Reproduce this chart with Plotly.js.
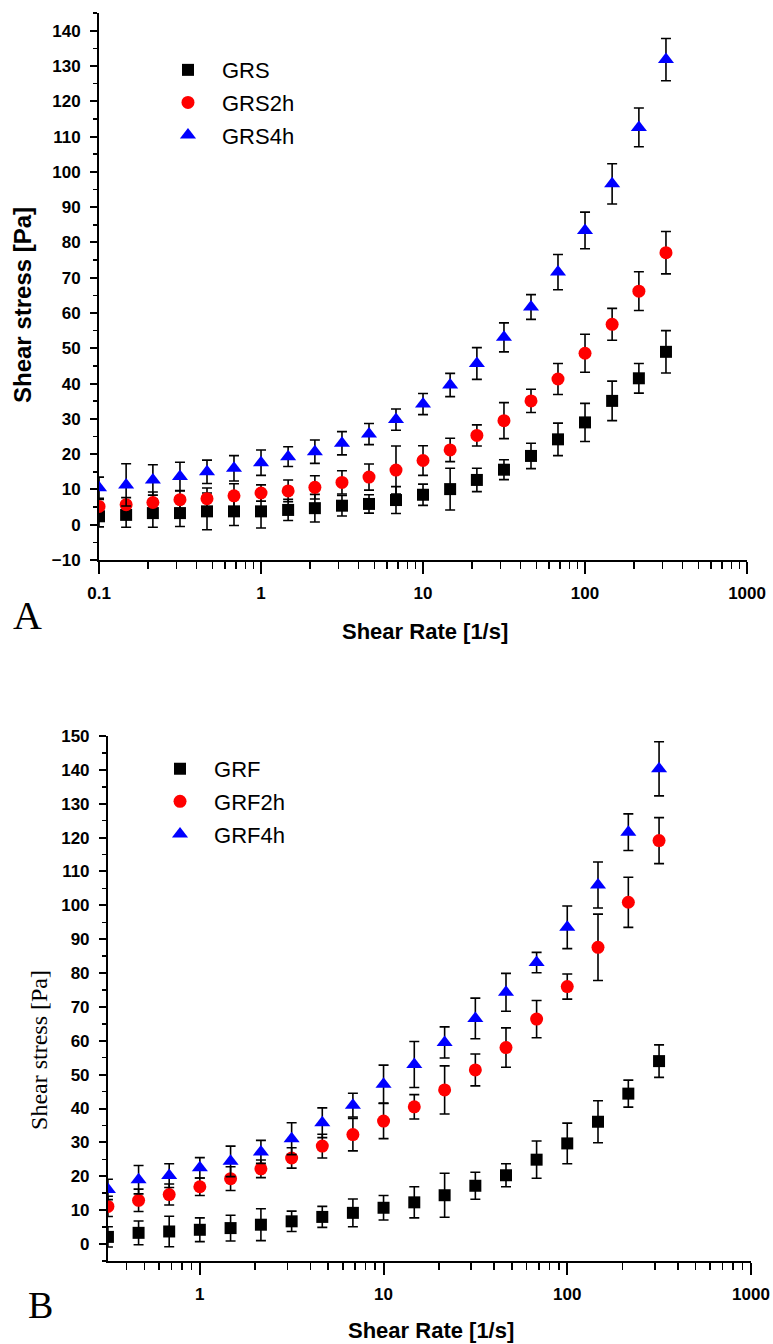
<!DOCTYPE html>
<html>
<head>
<meta charset="utf-8">
<script src="https://cdn.plot.ly/plotly-3.0.1.min.js"></script>
<style>html,body{margin:0;padding:0;background:#fff;}#chart{width:773px;height:1344px;}</style>
</head>
<body>
<div id="chart"></div>
<script>
// ---------- Panel A data ----------
var shearRateA = [0.1, 0.147, 0.215, 0.316, 0.464, 0.681, 1, 1.47, 2.15, 3.16, 4.64, 6.81, 10, 14.7, 21.5, 31.6, 46.4, 68.1, 100, 147, 215, 316];
var GRS      = [2.4, 2.8, 3.3, 3.3, 3.8, 3.8, 3.8, 4.2, 4.7, 5.4, 5.9, 7.0, 8.5, 10.1, 12.7, 15.6, 19.5, 24.2, 29.0, 35.1, 41.5, 49.0];
var GRS_err  = [3, 3.5, 4, 3.8, 5.2, 4, 4.7, 3, 3.9, 2.9, 2.6, 3.8, 3, 5.9, 3.3, 2.8, 3.6, 4.6, 5.4, 5.6, 4.2, 6];
var GRS2h     = [5.2, 5.7, 6.3, 7.1, 7.4, 8.2, 9.0, 9.6, 10.6, 12.0, 13.5, 15.5, 18.2, 21.2, 25.3, 29.5, 35.1, 41.3, 48.6, 56.8, 66.2, 77.1];
var GRS2h_err = [2, 2, 3, 2.5, 3, 3.4, 2.3, 3.1, 3.3, 3.3, 3.7, 6.8, 4.2, 3.3, 3, 5.1, 3.3, 4.4, 5.4, 4.5, 5.5, 6];
var GRS4h     = [10.5, 11.3, 12.7, 13.7, 15.0, 16.0, 17.6, 19.3, 20.7, 23.1, 25.7, 29.8, 34.2, 39.6, 45.7, 53.1, 61.7, 71.6, 83.4, 96.6, 112.6, 131.8];
var GRS4h_err = [3, 6, 4.3, 4, 3.3, 3.6, 3.6, 2.8, 3.3, 3.3, 3, 3, 3, 3.3, 4.5, 4.1, 3.5, 5, 5.2, 5.7, 5.5, 6];

// ---------- Panel B data ----------
var shearRateB = [0.316, 0.464, 0.681, 1, 1.47, 2.15, 3.16, 4.64, 6.81, 10, 14.7, 21.5, 31.6, 46.4, 68.1, 100, 147, 215, 316];
var GRF       = [2.1, 3.3, 3.7, 4.2, 4.7, 5.7, 6.7, 8.0, 9.2, 10.7, 12.3, 14.4, 17.2, 20.3, 24.9, 29.7, 36.1, 44.4, 54.0];
var GRF_err   = [3, 3.5, 4.5, 3.5, 3.8, 4.7, 3, 3.1, 4.1, 3.6, 4.6, 6.5, 4, 3.4, 5.5, 6, 6.2, 4, 4.8];
var GRF2h     = [11.1, 12.9, 14.6, 16.9, 19.3, 22.2, 25.4, 28.9, 32.3, 36.3, 40.5, 45.5, 51.4, 58.0, 66.4, 76.0, 87.6, 100.9, 119.1];
var GRF2h_err = [3, 3.3, 3.1, 2.6, 3.5, 2.6, 3, 3.5, 4.8, 5.2, 3.6, 7.1, 4.7, 5.8, 5.5, 3.7, 9.8, 7.4, 6.8];
var GRF4h     = [16.1, 19.0, 20.2, 22.5, 24.4, 27.2, 31.1, 35.8, 41.0, 47.2, 53.0, 59.5, 66.6, 74.3, 83.1, 93.5, 106.0, 121.6, 140.3];
var GRF4h_err = [3, 4.2, 3.5, 3, 4.5, 3.4, 4.7, 4.4, 3.5, 5.6, 6.8, 4.6, 6, 5.6, 3, 6.3, 6.8, 5.4, 8];

// ---------- Tick labels ----------
var xTickValsA = [0.1, 1, 10, 100, 1000];
var xTickTextA = ['0.1', '1', '10', '100', '1000'];
var xTickValsB = [1, 10, 100, 1000];
var xTickTextB = ['1', '10', '100', '1000'];

var seriesNamesA = ['GRS', 'GRS2h', 'GRS4h'];
var seriesNamesB = ['GRF', 'GRF2h', 'GRF4h'];

// minor tick positions (2..9 in each decade)
var minorTicks = [];
[0.1, 1, 10, 100].forEach(function (d) {
  for (var k = 2; k <= 9; k++) minorTicks.push(+(d * k).toPrecision(3));
});

var symbols = ['square', 'circle', 'triangle-up'];
var colors = ['#000000', '#ff0000', '#0000ff'];
var sizes = [12, 13, 14];

function mk(x, y, err, i, name, xa, ya, leg) {
  return {
    type: 'scatter', mode: 'markers', x: x, y: y, name: name,
    xaxis: xa, yaxis: ya, legend: leg, legendgroup: name,
    marker: { symbol: symbols[i], color: colors[i], size: sizes[i], line: { width: 0 } },
    error_y: { type: 'data', array: err, visible: true, color: '#000000', thickness: 1.6, width: 5 }
  };
}

var data = [
  mk(shearRateA, GRS, GRS_err, 0, seriesNamesA[0], 'x', 'y', 'legend'),
  mk(shearRateA, GRS2h, GRS2h_err, 1, seriesNamesA[1], 'x', 'y', 'legend'),
  mk(shearRateA, GRS4h, GRS4h_err, 2, seriesNamesA[2], 'x', 'y', 'legend'),
  mk(shearRateB, GRF, GRF_err, 0, seriesNamesB[0], 'x2', 'y2', 'legend2'),
  mk(shearRateB, GRF2h, GRF2h_err, 1, seriesNamesB[1], 'x2', 'y2', 'legend2'),
  mk(shearRateB, GRF4h, GRF4h_err, 2, seriesNamesB[2], 'x2', 'y2', 'legend2')
];

var tickFont = { family: 'Liberation Sans, Arial, sans-serif', size: 17, color: '#000', weight: 'bold' };

function xAxis(domain, range, tv, tt, anchor) {
  return {
    type: 'log', domain: domain, range: range, anchor: anchor,
    showline: true, linecolor: '#000', linewidth: 2, mirror: false,
    showgrid: false, zeroline: false,
    ticks: 'outside', ticklen: 12, tickwidth: 2, tickcolor: '#000',
    tickmode: 'array', tickvals: tv, ticktext: tt, tickfont: tickFont,
    ticklabelstandoff: 5,
    minor: { tickmode: 'array', tickvals: minorTicks, ticks: 'outside', ticklen: 7, tickwidth: 1.5, tickcolor: '#000', showgrid: false }
  };
}
function yAxis(domain, range, anchor) {
  return {
    domain: domain, range: range, anchor: anchor,
    showline: true, linecolor: '#000', linewidth: 2,
    showgrid: false, zeroline: false,
    ticks: 'outside', ticklen: 7, tickwidth: 2, tickcolor: '#000',
    tick0: 0, dtick: 10, tickfont: tickFont, ticklabelstandoff: 6,
    minor: { dtick: 5, ticks: 'outside', ticklen: 4, tickwidth: 1.5, tickcolor: '#000', showgrid: false }
  };
}

var legFont = { family: 'Liberation Sans, Arial, sans-serif', size: 22, color: '#000' };
var layout = {
  width: 773, height: 1344,
  margin: { l: 0, r: 0, t: 0, b: 0 },
  paper_bgcolor: '#fff', plot_bgcolor: '#fff',
  showlegend: true,
  xaxis: xAxis([0.1281, 0.9664], [-1, 3], xTickValsA, xTickTextA, 'y'),
  yaxis: yAxis([0.5833, 0.9903], [-10, 145], 'x'),
  xaxis2: xAxis([0.1397, 0.9715], [-0.5, 3], xTickValsB, xTickTextB, 'y2'),
  yaxis2: yAxis([0.0618, 0.4524], [-5, 150], 'x2'),
  legend: { x: 0.1992, y: 0.9635, xanchor: 'left', yanchor: 'top', bgcolor: 'rgba(0,0,0,0)',
            font: legFont, tracegroupgap: 1, itemwidth: 58 },
  legend2: { x: 0.1889, y: 0.4435, xanchor: 'left', yanchor: 'top', bgcolor: 'rgba(0,0,0,0)',
             font: legFont, tracegroupgap: 1, itemwidth: 58 },
  annotations: [
    { text: 'Shear stress [Pa]', xref: 'paper', yref: 'paper', x: 0.0298, y: 0.7731, textangle: -90,
      showarrow: false, xanchor: 'center', yanchor: 'middle',
      font: { family: 'Liberation Sans, Arial, sans-serif', size: 24, color: '#000', weight: 'bold' } },
    { text: 'Shear Rate [1/s]', xref: 'paper', yref: 'paper', x: 0.5498, y: 0.5305,
      showarrow: false, xanchor: 'center', yanchor: 'middle',
      font: { family: 'Liberation Sans, Arial, sans-serif', size: 22, color: '#000', weight: 'bold' } },
    { text: 'A', xref: 'paper', yref: 'paper', x: 0.0362, y: 0.5424, showarrow: false,
      xanchor: 'center', yanchor: 'middle',
      font: { family: 'Liberation Serif, Times New Roman, serif', size: 40, color: '#000' } },
    { text: 'Shear stress [Pa]', xref: 'paper', yref: 'paper', x: 0.0505, y: 0.2188, textangle: -90,
      showarrow: false, xanchor: 'center', yanchor: 'middle',
      font: { family: 'Liberation Serif, Times New Roman, serif', size: 24, color: '#000' } },
    { text: 'Shear Rate [1/s]', xref: 'paper', yref: 'paper', x: 0.5576, y: 0.0097,
      showarrow: false, xanchor: 'center', yanchor: 'middle',
      font: { family: 'Liberation Sans, Arial, sans-serif', size: 22, color: '#000', weight: 'bold' } },
    { text: 'B', xref: 'paper', yref: 'paper', x: 0.053, y: 0.029, showarrow: false,
      xanchor: 'center', yanchor: 'middle',
      font: { family: 'Liberation Serif, Times New Roman, serif', size: 38, color: '#000' } }
  ]
};

Plotly.newPlot('chart', data, layout, { displayModeBar: false, staticPlot: true });
</script>
</body>
</html>
